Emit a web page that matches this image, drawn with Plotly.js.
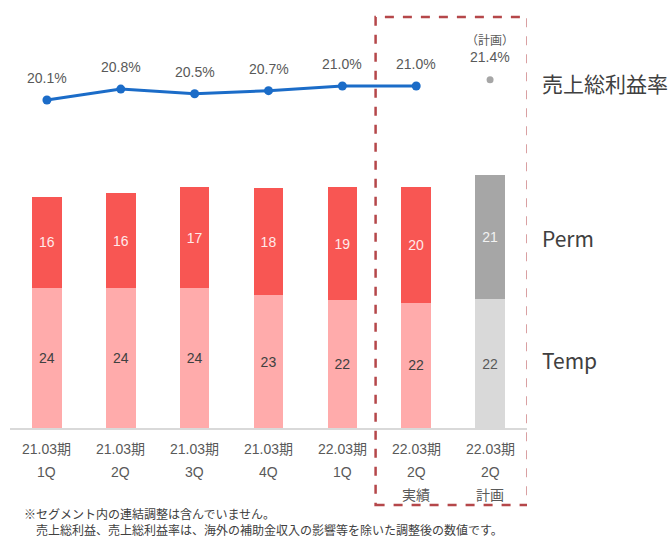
<!DOCTYPE html>
<html>
<head>
<meta charset="utf-8">
<script src="https://cdn.plot.ly/plotly-3.0.1.min.js"></script>
<style>html,body{margin:0;padding:0;background:#fff;}</style>
</head>
<body>
<div id="chart" style="width:669px;height:538px;"></div>
<script>
// ---- data ----
const periods  = ['21.03期','21.03期','21.03期','21.03期','22.03期','22.03期','22.03期'];
const quarters = ['1Q','2Q','3Q','4Q','1Q','2Q','2Q'];
const notes    = ['','','','','','実績','計画'];
const tempVals = [24.1, 24.1, 24.1, 22.9, 22.1, 21.6, 22.2];
const permVals = [15.8, 16.4, 17.4, 18.4, 19.4, 19.9, 21.4];
const marginActual = [20.1, 20.8, 20.5, 20.7, 21.0, 21.0];
const marginPlan = 21.4;
const planLabel = '（計画）';
const rightLabels = ['売上総利益率', 'Perm', 'Temp'];
const footnotes = ['※セグメント内の連結調整は含んでいません。',
                   '　売上総利益、売上総利益率は、海外の補助金収入の影響等を除いた調整後の数値です。'];

const xIdx = periods.map((_, i) => i);
const isPlan = notes.map(n => n === '計画');

const NUM = '"Liberation Sans", Arial, "Noto Sans CJK JP", sans-serif';
const CJK = '"Noto Sans CJK JP", "Liberation Sans", sans-serif';

const tempTrace = {
  type: 'bar', x: xIdx, y: tempVals, name: 'Temp',
  marker: {color: isPlan.map(p => p ? '#D9D9D9' : '#FFABAB')},
  texttemplate: '%{y:.0f}', textposition: 'inside', insidetextanchor: 'middle',
  textangle: 0, constraintext: 'none',
  textfont: {family: NUM, size: 14, color: isPlan.map(p => p ? '#595959' : '#404040')},
  hoverinfo: 'none'
};
const permTrace = {
  type: 'bar', x: xIdx, y: permVals, name: 'Perm',
  marker: {color: isPlan.map(p => p ? '#A6A6A6' : '#F85653')},
  texttemplate: '%{y:.0f}', textposition: 'inside', insidetextanchor: 'middle',
  textangle: 0, constraintext: 'none',
  textfont: {family: NUM, size: 14, color: isPlan.map(p => p ? '#F2F2F2' : '#FFEAEA')},
  hoverinfo: 'none'
};
const lineTrace = {
  type: 'scatter', mode: 'lines+markers', x: xIdx.slice(0, marginActual.length), y: marginActual,
  yaxis: 'y2', line: {color: '#1B6CC8', width: 3}, marker: {color: '#1B6CC8', size: 9},
  hoverinfo: 'none'
};
const planTrace = {
  type: 'scatter', mode: 'markers', x: [xIdx[xIdx.length - 1]], y: [marginPlan],
  yaxis: 'y2', marker: {color: '#A6A6A6', size: 7}, hoverinfo: 'none'
};

// ---- layout helpers ----
const PT = 10, PB = 428, PH = PB - PT;
const py = p => (PB - p) / PH;     // pixel row -> paper y
const L = 10, PW = 517;
const px = p => (p - L) / PW;      // pixel column -> paper x

const annotations = [];
marginActual.forEach((v, i) => annotations.push({
  xref: 'x', yref: 'y2', x: i, y: v, yshift: 22, showarrow: false,
  text: v.toFixed(1) + '%', font: {family: NUM, size: 14, color: '#595959'}
}));
annotations.push({xref: 'x', yref: 'y2', x: xIdx.length - 1, y: marginPlan, yshift: 23, showarrow: false,
  text: marginPlan.toFixed(1) + '%', font: {family: NUM, size: 14, color: '#595959'}});
annotations.push({xref: 'x', yref: 'y2', x: xIdx.length - 1, y: marginPlan, yshift: 40, showarrow: false,
  text: planLabel, font: {family: CJK, size: 12, color: '#595959'}});

xIdx.forEach(i => {
  [[periods[i], 449], [quarters[i], 472], [notes[i], 495]].forEach(([t, row]) => {
    if (!t) return;
    annotations.push({xref: 'x', yref: 'paper', x: i, y: py(row), yanchor: 'middle', showarrow: false,
      text: t, font: {family: NUM, size: 14, color: '#595959'}});
  });
});

[[rightLabels[0], 83], [rightLabels[1], 238], [rightLabels[2], 360]].forEach(([t, row]) => {
  annotations.push({xref: 'paper', yref: 'paper', x: px(540), y: py(row), xanchor: 'left', yanchor: 'middle',
    showarrow: false, text: t, font: {family: CJK, size: 21, color: '#404040'}});
});

annotations.push({xref: 'paper', yref: 'paper', x: px(22), y: py(521), xanchor: 'left', yanchor: 'middle',
  align: 'left', showarrow: false, text: footnotes.join('<br>'),
  font: {family: CJK, size: 12, color: '#404040'}});

const layout = {
  width: 669, height: 538,
  margin: {l: L, r: 669 - L - PW, t: PT, b: 538 - PB},
  paper_bgcolor: '#fff', plot_bgcolor: '#fff',
  barmode: 'stack', bargap: 0.6, showlegend: false,
  xaxis: {range: [-0.5, 6.5], showticklabels: false, ticks: '', showgrid: false, zeroline: false,
          showline: true, linecolor: '#D9D9D9', linewidth: 1.5, fixedrange: true},
  yaxis: {range: [0, PH / 5.8], visible: false, fixedrange: true},
  yaxis2: {range: [20.1 - 328 / 15.6, 20.1 - 328 / 15.6 + PH / 15.6], overlaying: 'y', visible: false, fixedrange: true},
  shapes: [{type: 'rect', xref: 'x', yref: 'paper', x0: 4.45, x1: 6.51, y0: py(505), y1: py(17),
            line: {color: '#B5474A', width: 2.5, dash: 'dash'}, fillcolor: 'rgba(0,0,0,0)', layer: 'above'}],
  annotations: annotations
};

Plotly.newPlot('chart', [tempTrace, permTrace, lineTrace, planTrace], layout, {displayModeBar: false, staticPlot: true});
</script>
</body>
</html>
